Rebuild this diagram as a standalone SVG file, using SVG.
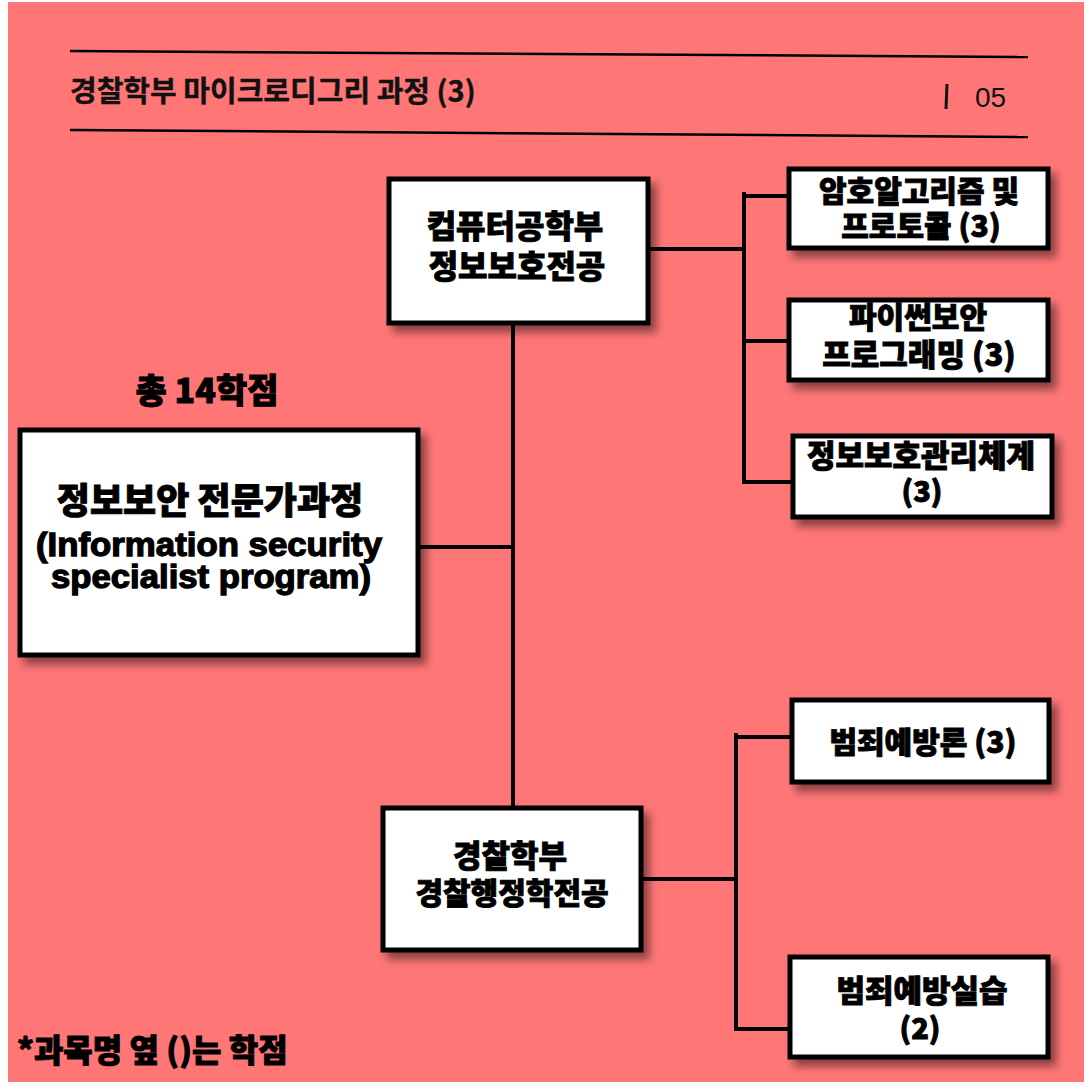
<svg xmlns="http://www.w3.org/2000/svg" width="1091" height="1091" viewBox="0 0 1091 1091">
<defs>
<filter id="sh" x="-10%" y="-10%" width="130%" height="140%">
<feDropShadow dx="6" dy="7" stdDeviation="4" flood-color="#000" flood-opacity="0.45"/>
</filter>
<style>
.box{fill:#fff;stroke:#000;stroke-width:5}
.k{font-family:"Noto Sans CJK KR","Noto Sans",sans-serif;font-weight:900;fill:#000;stroke:#000;stroke-width:0.9;text-anchor:middle}
.e{font-family:"Liberation Sans",Arial,sans-serif;font-weight:bold;fill:#000;stroke:#000;stroke-width:1.3;text-anchor:middle}
.c{stroke:#000;stroke-width:4;fill:none}
.h{stroke:#000;stroke-width:2.5;fill:none}
</style>
</defs>
<rect x="0" y="0" width="1091" height="1091" fill="#fff"/>
<rect x="8" y="2" width="1076" height="1080" fill="#FF7677"/>

<g id="header">
<line class="h" x1="70" y1="51" x2="1028" y2="57"/>
<line class="h" x1="70" y1="130" x2="1028" y2="137"/>
<text x="70" y="102" font-family="Noto Sans CJK KR, sans-serif" font-weight="700" font-size="29" fill="#111" stroke="#111" stroke-width="0.4">경찰학부 마이크로디그리 과정 (3)</text>
<line x1="947" y1="84" x2="946" y2="109" stroke="#111" stroke-width="3"/>
<text x="975" y="107" font-family="Liberation Sans, Arial, sans-serif" font-size="28" fill="#111">05</text>
</g>

<g id="connectors">
<line class="c" x1="513" y1="323" x2="513" y2="807"/>
<line class="c" x1="418" y1="547" x2="513" y2="547"/>
<line class="c" x1="648" y1="249" x2="744" y2="249"/>
<line class="c" x1="744" y1="192" x2="744" y2="484"/>
<line class="c" x1="744" y1="196" x2="789" y2="196"/>
<line class="c" x1="744" y1="341" x2="789" y2="341"/>
<line class="c" x1="744" y1="482" x2="793" y2="482"/>
<line class="c" x1="641" y1="879" x2="736" y2="879"/>
<line class="c" x1="736" y1="733" x2="736" y2="1031"/>
<line class="c" x1="736" y1="737" x2="792" y2="737"/>
<line class="c" x1="736" y1="1029" x2="790" y2="1029"/>
</g>

<g id="total">
<text class="k" x="207" y="403" font-size="34">총 14학점</text>
</g>

<g id="main">
<rect class="box" filter="url(#sh)" x="20" y="430" width="398" height="225"/>
<text class="k" x="210" y="514" font-size="36">정보보안 전문가과정</text>
<text class="e" x="209" y="556" font-size="33" textLength="346" lengthAdjust="spacingAndGlyphs">(Information security</text>
<text class="e" x="211" y="588" font-size="33" textLength="320" lengthAdjust="spacingAndGlyphs">specialist program)</text>
</g>

<g id="cse">
<rect class="box" filter="url(#sh)" x="389" y="179" width="259" height="144"/>
<text class="k" x="515" y="238" font-size="32">컴퓨터공학부</text>
<text class="k" x="517" y="278" font-size="32">정보보호전공</text>
</g>

<g id="crypto">
<rect class="box" filter="url(#sh)" x="789" y="169" width="259" height="79"/>
<text class="k" x="919" y="202" font-size="30">암호알고리즘 및</text>
<text class="k" x="921" y="237" font-size="30">프로토콜 (3)</text>
</g>

<g id="python">
<rect class="box" filter="url(#sh)" x="789" y="300" width="259" height="80"/>
<text class="k" x="918" y="328" font-size="30">파이썬보안</text>
<text class="k" x="919" y="366" font-size="31">프로그래밍 (3)</text>
</g>

<g id="isms">
<rect class="box" filter="url(#sh)" x="793" y="436" width="259" height="81"/>
<text class="k" x="921" y="467" font-size="31">정보보호관리체계</text>
<text class="k" x="922" y="502" font-size="29">(3)</text>
</g>

<g id="police">
<rect class="box" filter="url(#sh)" x="383" y="808" width="258" height="142"/>
<text class="k" x="510" y="867" font-size="31">경찰학부</text>
<text class="k" x="512" y="904" font-size="30">경찰행정학전공</text>
</g>

<g id="prevention">
<rect class="box" filter="url(#sh)" x="792" y="700" width="257" height="82"/>
<text class="k" x="923" y="753" font-size="30">범죄예방론 (3)</text>
</g>

<g id="practice">
<rect class="box" filter="url(#sh)" x="790" y="957" width="258" height="100"/>
<text class="k" x="922" y="1002" font-size="31">범죄예방실습</text>
<text class="k" x="920" y="1039" font-size="29">(2)</text>
</g>

<g id="footer">
<text class="k" x="17" y="1062" font-size="32" style="text-anchor:start">*과목명 옆 ()는 학점</text>
</g>
</svg>
